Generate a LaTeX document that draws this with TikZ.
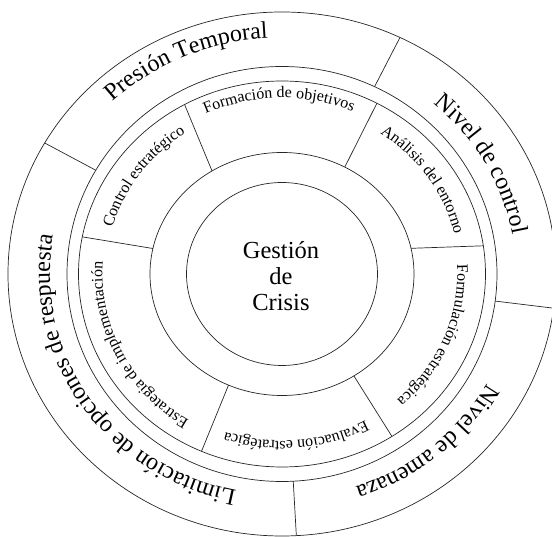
\documentclass[tikz,border=0pt]{standalone}
\usepackage{fontspec}
\setmainfont{Liberation Serif}
\usetikzlibrary{decorations.text}
\newcommand{\ringlabel}[4]{%
\pgfmathsetmacro{\rx}{1.05*#1}%
\path[decorate, decoration={text along path, text align=center, text={|#3|#4}}]
 ({\rx*cos(#2+70)},{#1*sin(#2+70)}) arc[start angle=#2+70, end angle=#2-70, x radius=\rx, y radius=#1];}
\newcommand{\outerfont}{\fontsize{24}{28}\selectfont}
\newcommand{\innerfont}{\fontsize{16}{19}\selectfont}

\begin{document}
\begin{tikzpicture}[x=1pt, y=1pt, ring/.style={draw, line width=0.7pt, black!85}]
\useasboundingbox (-282,-263) rectangle (270,274);
\clip (-282,-263) rectangle (270,274);
\foreach \rx/\ry in {95.5/91.5, 132/121.5, 203.5/193, 215/207.5, 274/262}
  \draw[ring] (0,0) ellipse[x radius=\rx, y radius=\ry];
\foreach \a/\b in {122/118.6, 61.6/62.2, 12.2/8.4, -57/-57.3, -113.9/-113.3, 167.9/168.9}
  \draw[ring] ({132*cos(\a)},{121.5*sin(\a)}) -- ({203.5*cos(\b)},{193*sin(\b)});
\foreach \a in {150, 64.5, -7.5, -87}
  \draw[ring] ({215*cos(\a)},{207.5*sin(\a)}) -- ({274*cos(\a)},{262*sin(\a)});
\node[align=center, font=\fontsize{24.5}{26}\selectfont] (crisis) at (-1,-2) {Gestión\\de\\Crisis};
\ringlabel{236}{114}{\outerfont}{Presión Temporal}
\ringlabel{223}{29}{\outerfont}{Nivel de control}
\ringlabel{224}{-49.5}{\outerfont}{Nivel de amenaza}
\ringlabel{221}{213.8}{\outerfont}{Limitación de opciones de respuesta}
\ringlabel{176}{91}{\innerfont}{Formación de objetivos}
\ringlabel{169}{34}{\innerfont}{Análisis del entorno}
\ringlabel{167}{-22.3}{\innerfont}{Formulación estratégica}
\ringlabel{167}{-85}{\innerfont}{Evaluación estratégica}
\ringlabel{171}{206.7}{\innerfont}{Estrategia de implementación}
\ringlabel{168}{144.6}{\innerfont}{Control estratégico}
\end{tikzpicture}
\end{document}
